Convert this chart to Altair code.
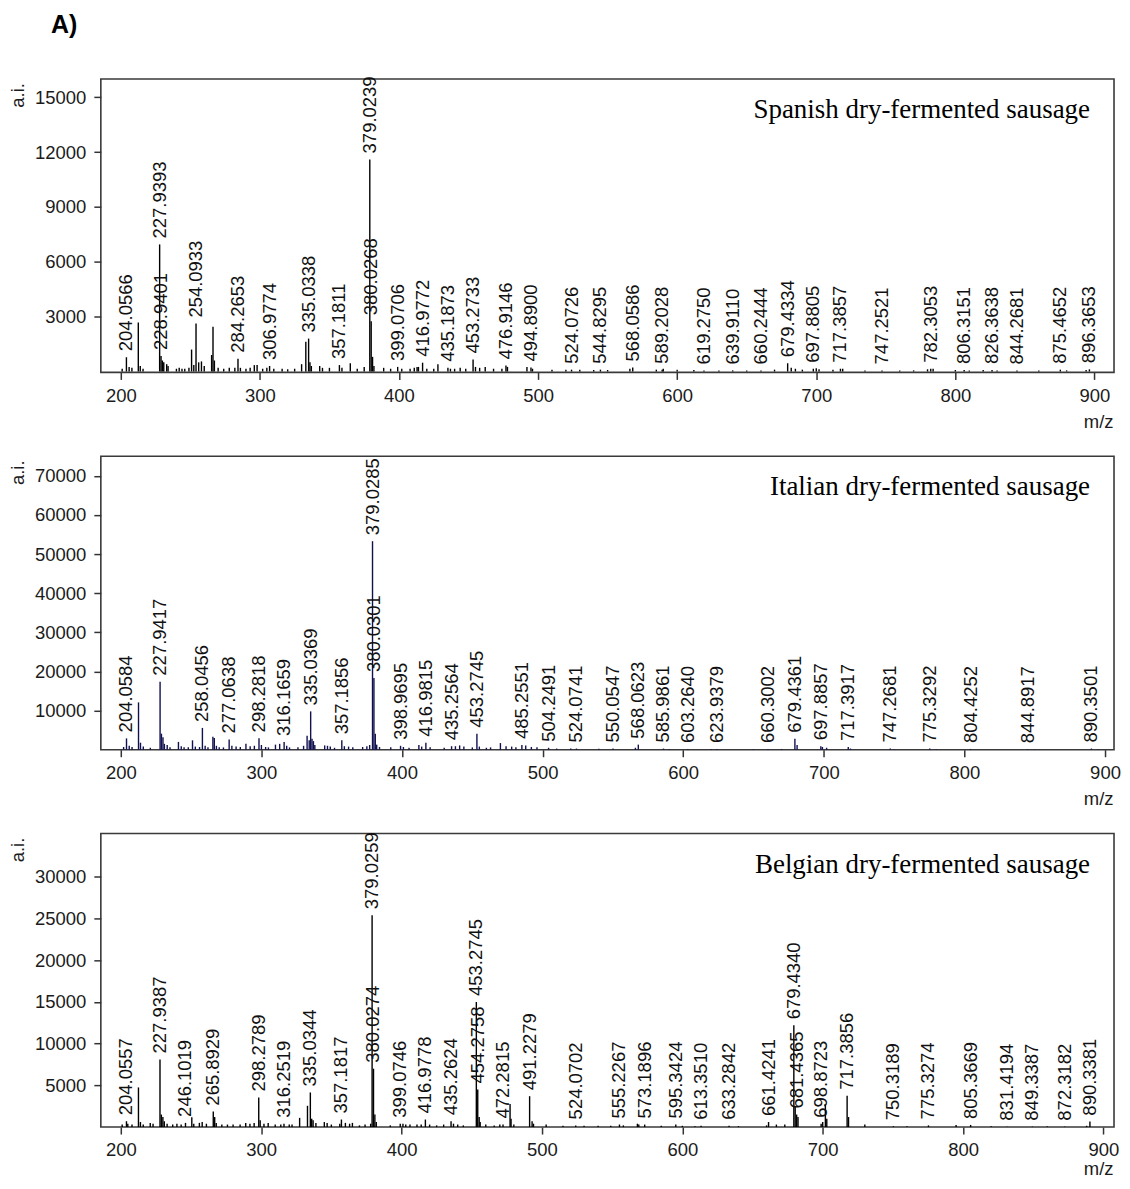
import altair as alt
import pandas as pd

SANS = "Liberation Sans, Arial, sans-serif"
SERIF = "Liberation Serif, Times New Roman, serif"

figure_tag = ["A)"]

# ---------------- Spanish dry-fermented sausage ----------------
sp_labels = ["204.0566", "227.9393", "228.9401", "254.0933", "284.2653", "306.9774",
             "335.0338", "357.1811", "379.0239", "380.0268", "399.0706", "416.9772",
             "435.1873", "453.2733", "476.9146", "494.8900", "524.0726", "544.8295",
             "568.0586", "589.2028", "619.2750", "639.9110", "660.2444", "679.4334",
             "697.8805", "717.3857", "747.2521", "782.3053", "806.3151", "826.3638",
             "844.2681", "875.4652", "896.3653"]
sp_label_int = [780, 6950, 850, 2620, 700, 300,
                1800, 350, 11600, 2750, 250, 480,
                200, 650, 330, 220, 100, 100,
                220, 100, 60, 60, 60, 450,
                150, 150, 60, 150, 80, 80,
                60, 100, 120]
sp_minor_mz = [201, 206, 208, 212.6, 214, 216, 229.9, 230.9, 233, 234, 240, 242, 244, 246,
               249, 250.9, 252.5, 256, 258, 260, 265.3, 266.3, 267.3, 270, 274, 278, 282,
               286, 290, 293, 296, 298, 302, 305, 310, 316, 320, 325, 330, 333.03, 336,
               337, 343, 345, 350, 359, 365, 370, 375, 381, 382, 389, 394, 402, 408, 411,
               413, 414, 420, 425, 428, 437, 440, 444, 448, 455, 458, 462, 468, 474, 478,
               492, 496, 510, 520, 530, 540, 550, 566, 585, 590, 600, 612, 630, 650, 670,
               682, 685, 690, 700, 702, 712, 719, 735, 760, 770, 780, 784, 800, 810, 820,
               830, 860, 880, 894]
sp_minor_int = [150, 250, 200, 2680, 300, 150, 600, 500, 400, 300, 150, 200, 150, 150,
                200, 1200, 350, 500, 550, 300, 900, 2450, 600, 200, 150, 200, 200,
                200, 150, 200, 350, 350, 150, 200, 150, 150, 120, 150, 400, 1620, 500,
                300, 300, 200, 200, 200, 450, 150, 250, 800, 300, 200, 150, 150, 150, 200,
                250, 250, 150, 150, 400, 150, 150, 200, 150, 250, 200, 250, 150, 150, 250,
                250, 150, 100, 100, 100, 80, 80, 150, 100, 150, 100, 80, 60, 60, 100,
                200, 150, 100, 180, 120, 100, 150, 60, 50, 60, 120, 150, 80, 60, 80,
                60, 50, 60, 80]

# ---------------- Italian dry-fermented sausage ----------------
it_labels = ["204.0584", "227.9417", "258.0456", "277.0638", "298.2818", "316.1659",
             "335.0369", "357.1856", "379.0285", "380.0301", "398.9695", "416.9815",
             "435.2564", "453.2745", "485.2551", "504.2491", "524.0741", "550.0547",
             "568.0623", "585.9861", "603.2640", "623.9379", "660.3002", "679.4361",
             "697.8857", "717.3917", "747.2681", "775.3292", "804.4252", "844.8917",
             "890.3501"]
it_label_int = [2900, 17400, 5570, 2600, 2900, 2000,
                9800, 2400, 53300, 18300, 1000, 1800,
                900, 4100, 1200, 500, 300, 300,
                1300, 300, 200, 200, 200, 2800,
                900, 700, 300, 300, 200, 150,
                300]
it_minor_mz = [202, 206, 208, 212.6, 214, 216, 221, 228.9, 230, 231, 233, 235, 241, 243,
               245, 248, 251, 253, 256, 260, 262, 265.5, 266.5, 268, 270, 273, 279, 282,
               285, 289, 292, 295, 300, 303, 305, 310, 313, 318, 320, 326, 330, 332.5,
               334, 336, 337, 338, 345, 347, 349, 352, 359, 362, 365, 372, 375, 377, 381,
               382, 384, 392, 401, 405, 412, 414, 420, 430, 438, 441, 444, 450, 455, 460,
               463, 470, 474, 478, 481, 488, 492, 496, 510, 520, 540, 566, 590, 620, 650,
               670, 681, 699, 702, 719, 750, 780, 850, 895]
it_minor_int = [700, 1000, 700, 12100, 1800, 800, 500, 4100, 3200, 1500, 1200, 600, 2000, 900,
                600, 600, 2400, 800, 700, 1000, 600, 3300, 3000, 1000, 600, 600, 1000, 800,
                700, 1500, 900, 1000, 1200, 700, 600, 1300, 1500, 1000, 600, 600, 1000, 3600,
                2400, 2800, 2200, 1200, 1100, 1000, 800, 500, 900, 800, 600, 700, 900, 1200, 4100,
                1300, 700, 600, 700, 500, 1200, 800, 600, 500, 900, 1100, 800, 600, 800, 500,
                600, 1700, 900, 800, 600, 1100, 700, 600, 300, 300, 250, 500, 200, 150, 150,
                200, 1200, 700, 500, 300, 100, 120, 80, 100]

# ---------------- Belgian dry-fermented sausage ----------------
be_labels = ["204.0557", "227.9387", "246.1019", "265.8929", "298.2789", "316.2519",
             "335.0344", "357.1817", "379.0259", "380.0274", "399.0746", "416.9778",
             "435.2624", "454.2758", "453.2745", "472.2815", "491.2279", "524.0702",
             "555.2267", "573.1896", "595.3424", "613.3510", "633.2842", "661.4241",
             "679.4340", "681.4365", "698.8723", "717.3856", "750.3189", "775.3274",
             "805.3669", "831.4194", "849.3387", "872.3182", "890.3381"]
be_label_int = [700, 8100, 500, 1850, 3550, 400,
                4150, 900, 25400, 7000, 400, 900,
                700, 4500, 15000, 300, 3700, 200,
                300, 300, 300, 150, 150, 600,
                12200, 1500, 400, 3750, 100, 200,
                250, 50, 50, 50, 650]
be_minor_mz = [201, 205, 208, 212.6, 214, 216, 221, 223, 228.9, 230, 231, 233, 237, 240,
               243, 250.6, 252, 256, 258, 261, 266.9, 268, 272, 276, 280, 285, 289, 292,
               295, 299.3, 302, 305, 310, 314, 320, 322, 327.4, 333, 336, 337, 339, 345,
               347, 350, 356, 360, 363, 365, 370, 374, 378, 381, 382, 392, 401, 403, 406,
               411, 414, 420, 425, 430, 437, 440, 444, 455.3, 456, 460, 466, 470, 477.3,
               478, 480, 493, 494, 503, 515, 530, 540, 549, 558, 568, 569, 585, 600, 609,
               640, 660, 667, 673, 680.4, 682.4, 700, 701.9, 702.9, 718.4, 730, 760, 795,
               820, 860, 888]
be_minor_int = [300, 400, 300, 4750, 600, 300, 500, 400, 1500, 1200, 700, 400, 300, 400,
                300, 1170, 400, 500, 600, 400, 1200, 500, 300, 300, 300, 300, 500, 400,
                500, 800, 400, 500, 300, 300, 300, 300, 1100, 2550, 1000, 800, 500, 600,
                500, 300, 400, 500, 400, 500, 200, 300, 400, 1500, 600, 200, 400, 300, 300,
                300, 300, 300, 200, 300, 400, 300, 200, 1200, 600, 300, 200, 300, 2750,
                1000, 300, 700, 400, 300, 150, 150, 150, 150, 200, 400, 300, 150, 150, 100,
                100, 200, 300, 300, 2500, 1200, 600, 2750, 1000, 1200, 300, 100, 250,
                100, 80, 150]

panel_names = ["Spanish dry-fermented sausage", "Italian dry-fermented sausage",
               "Belgian dry-fermented sausage"]

W = 1015
H = 294
XTICKS = [200, 300, 400, 500, 600, 700, 800, 900]


def panel(name, labels, label_int, minor_mz, minor_int, xdom, ydom, yticks, color,
          mz_title_y=55, tag=None):
    lab_mz = [float(s) for s in labels]
    peaks = pd.DataFrame({"mz": lab_mz + minor_mz, "inten": label_int + minor_int})
    labs = pd.DataFrame({"mz": lab_mz, "inten": label_int, "txt": labels})
    xsc = alt.Scale(domain=xdom, nice=False, zero=False)
    ysc = alt.Scale(domain=ydom, nice=False, zero=False)
    xaxis = alt.Axis(values=XTICKS, title="m/z", format="d", labelPadding=7,
                     titleX=W - 1, titleY=mz_title_y, titleAlign="right",
                     titleBaseline="alphabetic", titleAngle=0)
    yaxis = alt.Axis(values=yticks, title="a.i.", format="d", labelPadding=8,
                     titleX=-83, titleY=16, titleAngle=270, titleAlign="center",
                     titleBaseline="middle")
    rules = alt.Chart(peaks).mark_rule(color=color, strokeWidth=1.4).encode(
        x=alt.X("mz:Q", scale=xsc, axis=xaxis),
        y=alt.Y("inten:Q", scale=ysc, axis=yaxis),
        y2=alt.datum(0),
    )
    texts = alt.Chart(labs).mark_text(
        angle=270, align="left", baseline="middle", dx=6,
        font=SANS, fontSize=18.5, color="#111111",
    ).encode(x="mz:Q", y="inten:Q", text="txt:N")
    name_txt = alt.Chart(pd.DataFrame({"name": [name]})).mark_text(
        align="right", baseline="alphabetic", font=SERIF, fontSize=27, color="#000000",
    ).encode(x=alt.value(W - 24), y=alt.value(39), text="name:N")
    layers = [rules, texts, name_txt]
    if tag is not None:
        tag_txt = alt.Chart(pd.DataFrame({"tag": tag})).mark_text(
            align="left", baseline="top", font=SANS, fontSize=25, fontWeight="bold",
            color="#000000",
        ).encode(x=alt.value(-50), y=alt.value(-66), text="tag:N")
        layers.append(tag_txt)
    return alt.layer(*layers).properties(width=W, height=H)


p1 = panel(panel_names[0], sp_labels, sp_label_int, sp_minor_mz, sp_minor_int,
           [185.66, 914.06], [-50, 16000], [3000, 6000, 9000, 12000, 15000], "#000000",
           tag=figure_tag)
p2 = panel(panel_names[1], it_labels, it_label_int, it_minor_mz, it_minor_int,
           [185.8, 906.4], [0, 75000], [10000, 20000, 30000, 40000, 50000, 60000, 70000],
           "#111150")
p3 = panel(panel_names[2], be_labels, be_label_int, be_minor_mz, be_minor_int,
           [185.8, 907.5], [0, 35200], [5000, 10000, 15000, 20000, 25000, 30000], "#000000",
           mz_title_y=48)

chart = alt.vconcat(p1, p2, p3, spacing=84, bounds="flush").resolve_scale(
    x="independent", y="independent"
).properties(
    padding={"left": 0, "top": 3, "right": 0, "bottom": 0},
).configure_view(
    stroke="#3a3a3a", strokeWidth=1.6
).configure_axis(
    grid=False, domain=False, ticks=True, tickSize=7, tickWidth=1.5, tickColor="#333333",
    labelFont=SANS, labelFontSize=18.5, labelColor="#1b1b1b",
    titleFont=SANS, titleFontSize=18.5, titleFontWeight="normal", titleColor="#1b1b1b",
)

chart.save("out.html", embed_options={"renderer": "svg", "actions": False})
